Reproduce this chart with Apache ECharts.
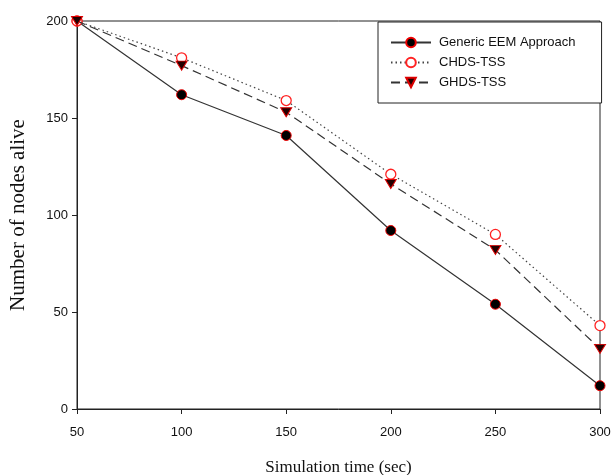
<!DOCTYPE html>
<html><head><meta charset="utf-8">
<script src="https://cdn.jsdelivr.net/npm/echarts@6/dist/echarts.min.js"></script>
<style>html,body{margin:0;padding:0;background:#fff}#c{width:611px;height:475px}</style>
</head><body><div id="c"></div>
<script>
const times = [50, 100, 150, 200, 250, 300];
const genericEEM = [200, 162, 141, 92, 54, 12];
const chdsTSS = [200, 181, 159, 121, 90, 43];
const ghdsTSS = [200, 177, 153, 116, 82, 31];
const seriesNames = ['Generic EEM Approach', 'CHDS-TSS', 'GHDS-TSS'];

const pair = arr => times.map((t, i) => [t, arr[i]]);
const chart = echarts.init(document.getElementById('c'));
chart.setOption({
  animation: false,
  backgroundColor: '#fff',
  grid: { left: 77, right: 11, top: 21, bottom: 66, show: true, borderColor: '#222', borderWidth: 1,
          containLabel: false, outerBoundsMode: 'none' },
  legend: {
    orient: 'vertical', left: 378, top: 22,
    padding: [14, 26, 14, 12], itemGap: 7, itemWidth: 40, itemHeight: 12,
    borderColor: '#222', borderWidth: 1, backgroundColor: '#fff',
    textStyle: { fontFamily: 'Liberation Sans', fontSize: 13, color: '#111', padding: [0,0,0,3] },
    data: seriesNames
  },
  xAxis: {
    type: 'value', min: 50, max: 300, interval: 50,
    name: 'Simulation time (sec)', nameLocation: 'middle', nameGap: 50,
    nameTextStyle: { fontFamily: 'Liberation Serif', fontSize: 17, color: '#111' },
    axisLine: { lineStyle: { color: '#222', width: 1 } },
    axisTick: { show: true, length: 5, lineStyle: { color: '#222' } },
    axisLabel: { fontFamily: 'Liberation Sans', fontSize: 13, color: '#111', margin: 17 },
    splitLine: { show: false }
  },
  yAxis: {
    type: 'value', min: 0, max: 200, interval: 50,
    name: 'Number of nodes alive', nameLocation: 'middle', nameGap: 48,
    nameTextStyle: { fontFamily: 'Liberation Serif', fontSize: 21, color: '#111' },
    axisLine: { show: true, lineStyle: { color: '#222', width: 1 } },
    axisTick: { show: true, length: 5, lineStyle: { color: '#222' } },
    axisLabel: { fontFamily: 'Liberation Sans', fontSize: 13, color: '#111', margin: 9 },
    splitLine: { show: false }
  },
  series: [
    {
      name: seriesNames[0], type: 'line', data: pair(genericEEM),
      symbol: 'circle', symbolSize: 10,
      lineStyle: { color: '#333', width: 1.2, type: 'solid' },
      itemStyle: { color: '#000', borderColor: '#e00', borderWidth: 1 }, z: 3
    },
    {
      name: seriesNames[1], type: 'line', data: pair(chdsTSS),
      symbol: 'circle', symbolSize: 10, showAllSymbol: true,
      lineStyle: { color: '#444', width: 1.2, type: [1.5, 3] },
      itemStyle: { color: '#fff', borderColor: '#f22', borderWidth: 1.3, opacity: 1 }, z: 4
    },
    {
      name: seriesNames[2], type: 'line', data: pair(ghdsTSS),
      symbol: 'triangle', symbolRotate: 180, symbolSize: [11, 9],
      lineStyle: { color: '#333', width: 1.2, type: [9, 5] },
      itemStyle: { color: '#200', borderColor: '#d00', borderWidth: 1 }, z: 5
    }
  ]
});
</script></body></html>
